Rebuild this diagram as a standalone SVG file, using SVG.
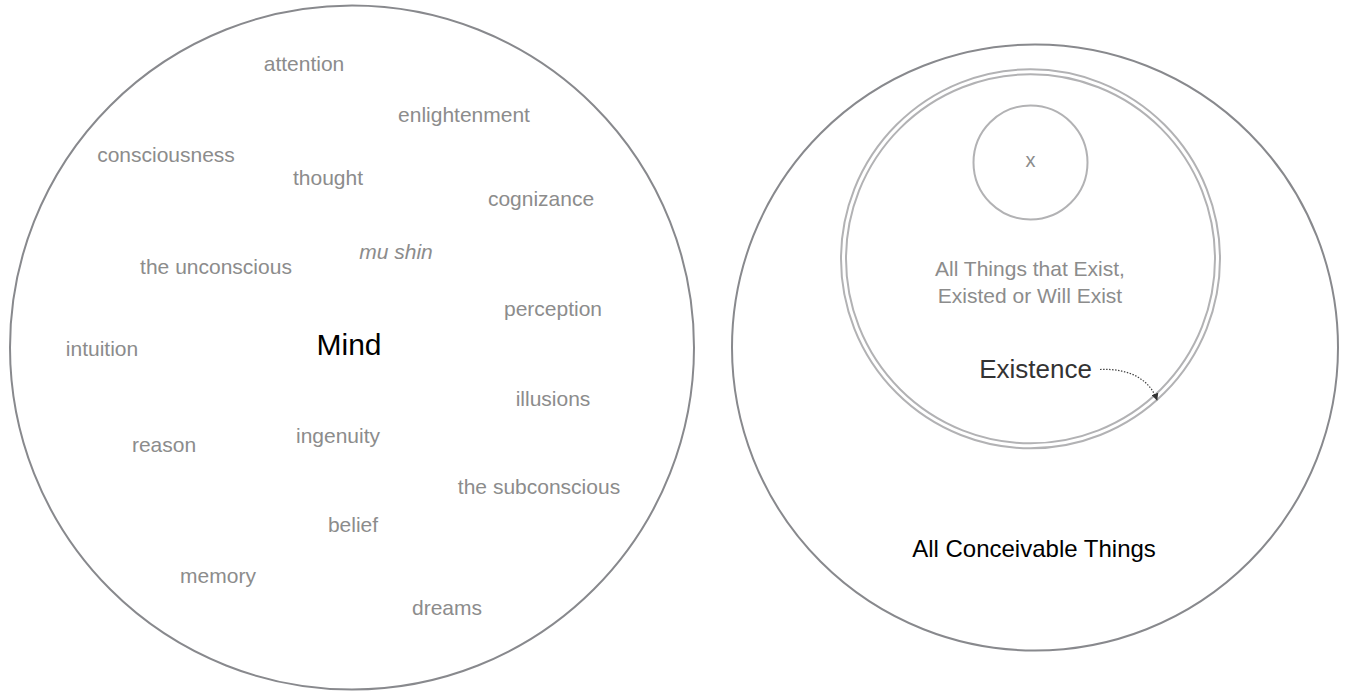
<svg xmlns="http://www.w3.org/2000/svg" width="1348" height="692" viewBox="0 0 1348 692">
<defs>
<style>
.ring{fill:none;stroke:#88898d;stroke-width:2}
.lite{fill:none;stroke:#b2b2b4;stroke-width:2}
.lbl{font-family:"Liberation Sans",Arial,Helvetica,sans-serif;font-size:21px;fill:#8c8c8c;text-anchor:middle}
.big{font-family:"Liberation Sans",Arial,Helvetica,sans-serif;fill:#000;text-anchor:middle}
</style>
<marker id="ah" viewBox="0 0 10 10" refX="9" refY="5" markerWidth="6" markerHeight="6" orient="auto">
<path d="M0,0 L10,5 L0,10 z" fill="#333"/>
</marker>
</defs>
<rect width="1348" height="692" fill="#fff"/>
<g id="mind">
<circle class="ring" cx="352" cy="347.5" r="342"/>
<text class="big" x="349" y="355" font-size="30">Mind</text>
<text class="lbl" x="304" y="71">attention</text>
<text class="lbl" x="464" y="122">enlightenment</text>
<text class="lbl" x="166" y="162">consciousness</text>
<text class="lbl" x="328" y="185">thought</text>
<text class="lbl" x="541" y="206">cognizance</text>
<text class="lbl" x="396" y="259" font-style="italic">mu shin</text>
<text class="lbl" x="216" y="274">the unconscious</text>
<text class="lbl" x="553" y="316">perception</text>
<text class="lbl" x="102" y="356">intuition</text>
<text class="lbl" x="553" y="406">illusions</text>
<text class="lbl" x="338" y="443">ingenuity</text>
<text class="lbl" x="164" y="452">reason</text>
<text class="lbl" x="539" y="494">the subconscious</text>
<text class="lbl" x="353" y="532">belief</text>
<text class="lbl" x="218" y="583">memory</text>
<text class="lbl" x="447" y="615">dreams</text>
</g>
<g id="conceivable">
<circle class="ring" cx="1035" cy="347.5" r="303"/>
<text class="big" x="1034" y="557" font-size="24">All Conceivable Things</text>
</g>
<g id="existence">
<circle class="lite" cx="1030.5" cy="258.8" r="189.5"/>
<circle class="lite" cx="1030.5" cy="258.8" r="184.5"/>
<text class="lbl" x="1030" y="276">All Things that Exist,</text>
<text class="lbl" x="1030" y="303">Existed or Will Exist</text>
<text class="big" x="1035.5" y="378" font-size="26" fill="#333" style="fill:#333">Existence</text>
</g>
<g id="x">
<circle class="lite" cx="1030.5" cy="162.5" r="57"/>
<text class="lbl" x="1030.5" y="167" style="font-size:20px">x</text>
</g>
<g id="connectors">
<path d="M1100,369.5 C1130,368 1150,380 1157,400" fill="none" stroke="#444" stroke-width="1.2" stroke-dasharray="1.5,1.5" marker-end="url(#ah)"/>
</g>
</svg>
